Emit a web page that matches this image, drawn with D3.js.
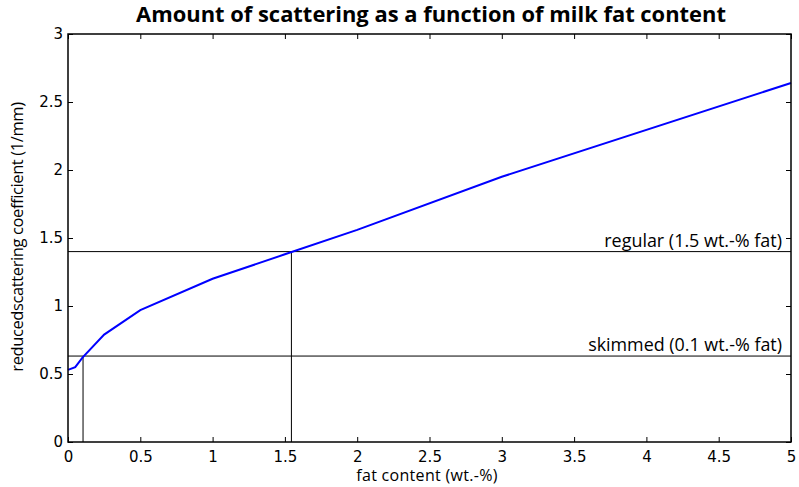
<!DOCTYPE html>
<html><head><meta charset="utf-8">
<script src="https://cdn.jsdelivr.net/npm/d3@7"></script>
<style>body{margin:0;background:#fff}svg{display:block}</style>
</head><body>
<svg id="c" width="799" height="487"></svg>
<script>
const fat = [0, 0.05, 0.1, 0.25, 0.5, 1, 1.5, 2, 3, 5];
const scatter = [0.53, 0.55, 0.62, 0.79, 0.97, 1.2, 1.38, 1.56, 1.95, 2.64];
const xTicks = [0, 0.5, 1, 1.5, 2, 2.5, 3, 3.5, 4, 4.5, 5];
const yTicks = [0, 0.5, 1, 1.5, 2, 2.5, 3];
const refLabels = ["regular (1.5 wt.-% fat)", "skimmed (0.1 wt.-% fat)"];
const refY = [1.4, 0.632];
const refX = [1.545, 0.104];

const svg = d3.select("#c");
const L = 68, R = 791, T = 34, B = 442;
const x = d3.scaleLinear().domain([0, 5]).range([L, R]);
const y = d3.scaleLinear().domain([0, 3]).range([B, T]);
const tickFont = "'DejaVu Sans', Verdana, sans-serif";
const sansFont = "'Open Sans', sans-serif";

function fit(sel, target) {
  const n = sel.node();
  const fs = parseFloat(sel.attr("font-size"));
  const w = n.getComputedTextLength();
  if (w > 0) sel.attr("font-size", (fs * target / w).toFixed(2));
  return sel;
}

const refW = [178, 194];
refY.forEach((v, i) => {
  svg.append("line").attr("x1", L).attr("x2", R).attr("y1", y(v)).attr("y2", y(v))
    .attr("stroke", "#000").attr("stroke-width", 1);
  svg.append("line").attr("x1", x(refX[i])).attr("x2", x(refX[i])).attr("y1", y(v)).attr("y2", B)
    .attr("stroke", "#000").attr("stroke-width", 1);
  const t = svg.append("text").attr("x", R - 9).attr("y", y(v) - 5).attr("text-anchor", "end")
    .attr("font-family", sansFont).attr("font-size", 14).text(refLabels[i]);
  fit(t, refW[i]);
});

svg.append("path").datum(fat.map((f, i) => [f, scatter[i]]))
  .attr("fill", "none").attr("stroke", "#0000ff").attr("stroke-width", 2)
  .attr("d", d3.line().x(d => x(d[0])).y(d => y(d[1])));

const ax = (g, a) => g.call(a).call(s => s.select(".domain").remove())
  .call(s => s.selectAll("text").attr("font-family", tickFont).attr("font-size", 15).attr("fill", "#000"));
svg.append("g").attr("transform", `translate(0,${B})`)
  .call(g => ax(g, d3.axisBottom(x).tickValues(xTicks).tickSize(-5).tickPadding(9).tickFormat(d3.format("~g"))));
svg.append("g").attr("transform", `translate(0,${T})`)
  .call(g => ax(g, d3.axisTop(x).tickValues(xTicks).tickSize(-5).tickFormat("")));
svg.append("g").attr("transform", `translate(${L},0)`)
  .call(g => ax(g, d3.axisLeft(y).tickValues(yTicks).tickSize(-5).tickPadding(5).tickFormat(d3.format("~g"))));
svg.append("g").attr("transform", `translate(${R},0)`)
  .call(g => ax(g, d3.axisRight(y).tickValues(yTicks).tickSize(-5).tickFormat("")));

svg.append("rect").attr("x", L).attr("y", T).attr("width", R - L).attr("height", B - T)
  .attr("fill", "none").attr("stroke", "#000").attr("stroke-width", 1.5);

fit(svg.append("text").attr("x", 431).attr("y", 22).attr("text-anchor", "middle")
  .attr("font-family", sansFont).attr("font-weight", "bold").attr("font-size", 18)
  .text("Amount of scattering as a function of milk fat content"), 590);
svg.append("text").attr("x", 427).attr("y", 481).attr("text-anchor", "middle")
  .attr("font-family", sansFont).attr("font-size", 16).attr("letter-spacing", 0.3)
  .text("fat content (wt.-%)");
fit(svg.append("text").attr("transform", "translate(23,237) rotate(-90)").attr("text-anchor", "middle")
  .attr("font-family", sansFont).attr("font-size", 14).attr("letter-spacing", -0.4)
  .text("reducedscattering coefficient (1/mm)"), 267);
</script>
</body></html>
